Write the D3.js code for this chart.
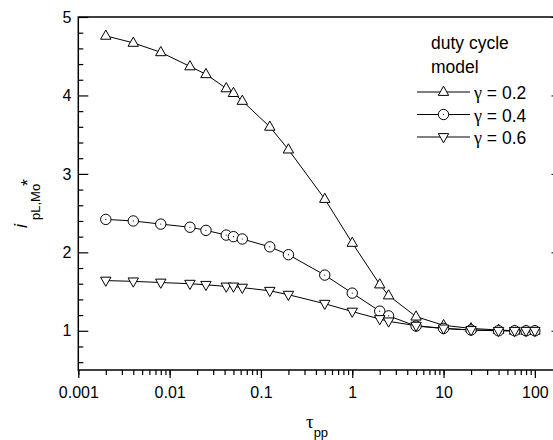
<!DOCTYPE html>
<html>
<head>
<meta charset="utf-8">
<script src="https://cdn.jsdelivr.net/npm/d3@7"></script>
<style>
  body { margin: 0; background: #fff; }
  svg text { font-family: Arial, "Liberation Sans", sans-serif; fill: #000; }
</style>
</head>
<body>
<div id="chart"></div>
<script>
const tau = [0.002, 0.004, 0.008, 0.0167, 0.025, 0.0417, 0.05, 0.0625, 0.125, 0.2, 0.5, 1, 2, 2.5, 5, 10, 20, 40, 60, 80, 100];
const gamma02 = [4.76, 4.67, 4.55, 4.37, 4.27, 4.09, 4.03, 3.93, 3.60, 3.31, 2.68, 2.12, 1.59, 1.45, 1.18, 1.07, 1.03, 1.01, 1.0, 1.0, 1.0];
const gamma04 = [2.42, 2.40, 2.36, 2.32, 2.28, 2.22, 2.20, 2.17, 2.07, 1.97, 1.71, 1.48, 1.25, 1.19, 1.06, 1.03, 1.01, 1.0, 1.0, 1.0, 1.0];
const gamma06 = [1.64, 1.63, 1.615, 1.60, 1.586, 1.565, 1.565, 1.55, 1.51, 1.46, 1.345, 1.245, 1.15, 1.12, 1.065, 1.03, 1.01, 1.0, 1.0, 1.0, 1.0];
const seriesNames = ["0.2", "0.4", "0.6"];
const seriesMarkers = ["up", "circle", "down"];
const xTicks = [0.001, 0.01, 0.1, 1, 10, 100];
const xTickLabels = ["0.001", "0.01", "0.1", "1", "10", "100"];
const yTicks = [1, 2, 3, 4, 5];

const width = 553, height = 440;
const plot = {left: 78.3, right: 554.5, top: 17, bottom: 370};

const svg = d3.select("#chart")
  .append("svg")
    .attr("width", width)
    .attr("height", height);

//Scales
const x = d3.scaleLog()
  .domain([0.001, 164])
  .range([plot.left, plot.right]);

const y = d3.scaleLinear()
  .domain([0.5, 5])
  .range([plot.bottom, plot.top]);

//Frame
svg.append("rect")
  .attr("x", plot.left).attr("y", plot.top)
  .attr("width", plot.right - plot.left).attr("height", plot.bottom - plot.top)
  .attr("fill", "none")
  .attr("stroke", "#000")
  .attr("stroke-width", 1.5);

//X axis: ticks pointing out
const xMinor = [];
for (let e = -3; e <= 2; e++) {
  for (let m = 1; m <= 9; m++) {
    const v = m * Math.pow(10, e);
    if (v <= 160) xMinor.push(v);
  }
}
svg.append("g")
  .attr("transform", `translate(0,${plot.bottom})`)
  .call(d3.axisBottom(x).tickValues(xMinor).tickSize(5).tickFormat(""))
  .call(g => g.select(".domain").remove())
  .selectAll("line").attr("stroke-width", 1.2);

svg.append("g")
  .attr("transform", `translate(0,${plot.bottom})`)
  .call(d3.axisBottom(x).tickValues(xTicks).tickSize(8).tickPadding(9)
    .tickFormat((d, i) => xTickLabels[i]))
  .call(g => g.select(".domain").remove())
  .call(g => g.selectAll("line").attr("stroke-width", 1.2))
  .selectAll("text")
    .style("font-size", "16px")
    .style("font-family", "Arial, 'Liberation Sans', sans-serif");

//Y axis: ticks pointing in
const yMinor = d3.range(0.6, 5.0, 0.2).filter(v => Math.abs(v - Math.round(v)) > 0.01);
svg.append("g")
  .attr("transform", `translate(${plot.left},0)`)
  .call(d3.axisRight(y).tickValues(yMinor).tickSize(5).tickFormat(""))
  .call(g => g.select(".domain").remove())
  .selectAll("line").attr("stroke-width", 1.2);

svg.append("g")
  .attr("transform", `translate(${plot.left},0)`)
  .call(d3.axisRight(y).tickValues(yTicks).tickSize(10).tickFormat(d3.format("d")))
  .call(g => g.select(".domain").remove())
  .call(g => g.selectAll("line").attr("stroke-width", 1.2))
  .selectAll("text")
    .attr("x", -7)
    .attr("text-anchor", "end")
    .style("font-size", "16px")
    .style("font-family", "Arial, 'Liberation Sans', sans-serif");

//Right axis major ticks
svg.append("g")
  .attr("transform", `translate(${plot.right},0)`)
  .call(d3.axisLeft(y).tickValues(yTicks).tickSize(3).tickFormat(""))
  .call(g => g.select(".domain").remove());

//Axis titles
const xt = svg.append("text")
  .attr("x", 306)
  .attr("y", 428);
xt.append("tspan")
  .style("font-family", "'Liberation Serif', 'DejaVu Serif', serif")
  .style("font-size", "19px")
  .text("τ");
xt.append("tspan")
  .attr("dy", 9)
  .style("font-size", "13px")
  .text("pp");

svg.append("text")
  .attr("transform", "translate(27,228) rotate(-90)")
  .style("font-size", "18px")
  .style("font-style", "italic")
  .text("i");
svg.append("text")
  .attr("transform", "translate(40,220) rotate(-90)")
  .style("font-size", "13px")
  .text("pL,Mo");
svg.append("text")
  .attr("transform", "translate(34,186) rotate(-90)")
  .style("font-size", "18px")
  .text("*");

//Series
const series = [gamma02, gamma04, gamma06].map((vals, i) => ({
  name: seriesNames[i],
  marker: seriesMarkers[i],
  values: tau.map((t, j) => [t, vals[j]])
}));

const line = d3.line()
  .x(d => x(d[0]))
  .y(d => y(d[1]));

svg.selectAll(".series-line")
  .data(series)
  .enter()
  .append("path")
    .attr("class", "series-line")
    .attr("d", d => line(d.values))
    .attr("fill", "none")
    .attr("stroke", "#000")
    .attr("stroke-width", 1);

const markerPath = {
  up: "M0,-5.8L5.2,3.4L-5.2,3.4Z",
  down: "M0,5.8L5.2,-3.4L-5.2,-3.4Z"
};

function drawMarker(g, type) {
  if (type === "circle") {
    g.append("circle").attr("r", 5.2)
      .attr("fill", "#fff").attr("stroke", "#000").attr("stroke-width", 1);
    g.append("circle").attr("r", 0.6).attr("fill", "#000");
  } else {
    g.append("path").attr("d", markerPath[type])
      .attr("fill", "#fff").attr("stroke", "#000").attr("stroke-width", 1);
  }
}

series.forEach(s => {
  svg.append("g")
    .selectAll("g")
    .data(s.values)
    .enter()
    .append("g")
      .attr("transform", d => `translate(${x(d[0])},${y(d[1])})`)
      .each(function() { drawMarker(d3.select(this), s.marker); });
});

//Legend
svg.append("text")
  .attr("x", 431).attr("y", 49)
  .style("font-size", "17.5px")
  .text("duty cycle");
svg.append("text")
  .attr("x", 431).attr("y", 73)
  .style("font-size", "17.5px")
  .text("model");

const legend = svg.append("g")
  .selectAll("g")
  .data(series)
  .enter()
  .append("g")
    .attr("transform", (d, i) => `translate(417,${92 + i * 22.5})`);

legend.append("line")
  .attr("x1", 0).attr("x2", 53)
  .attr("stroke", "#000").attr("stroke-width", 1);

legend.append("g")
  .attr("transform", "translate(26.5,0)")
  .each(function(d) { drawMarker(d3.select(this), d.marker); });

const lt = legend.append("text")
  .attr("x", 57).attr("y", 7)
  .style("font-size", "17.5px");
lt.append("tspan")
  .style("font-family", "'Liberation Serif', 'DejaVu Serif', serif")
  .style("font-size", "18px")
  .text("γ");
lt.append("tspan")
  .text(d => " = " + d.name);
</script>
</body>
</html>
